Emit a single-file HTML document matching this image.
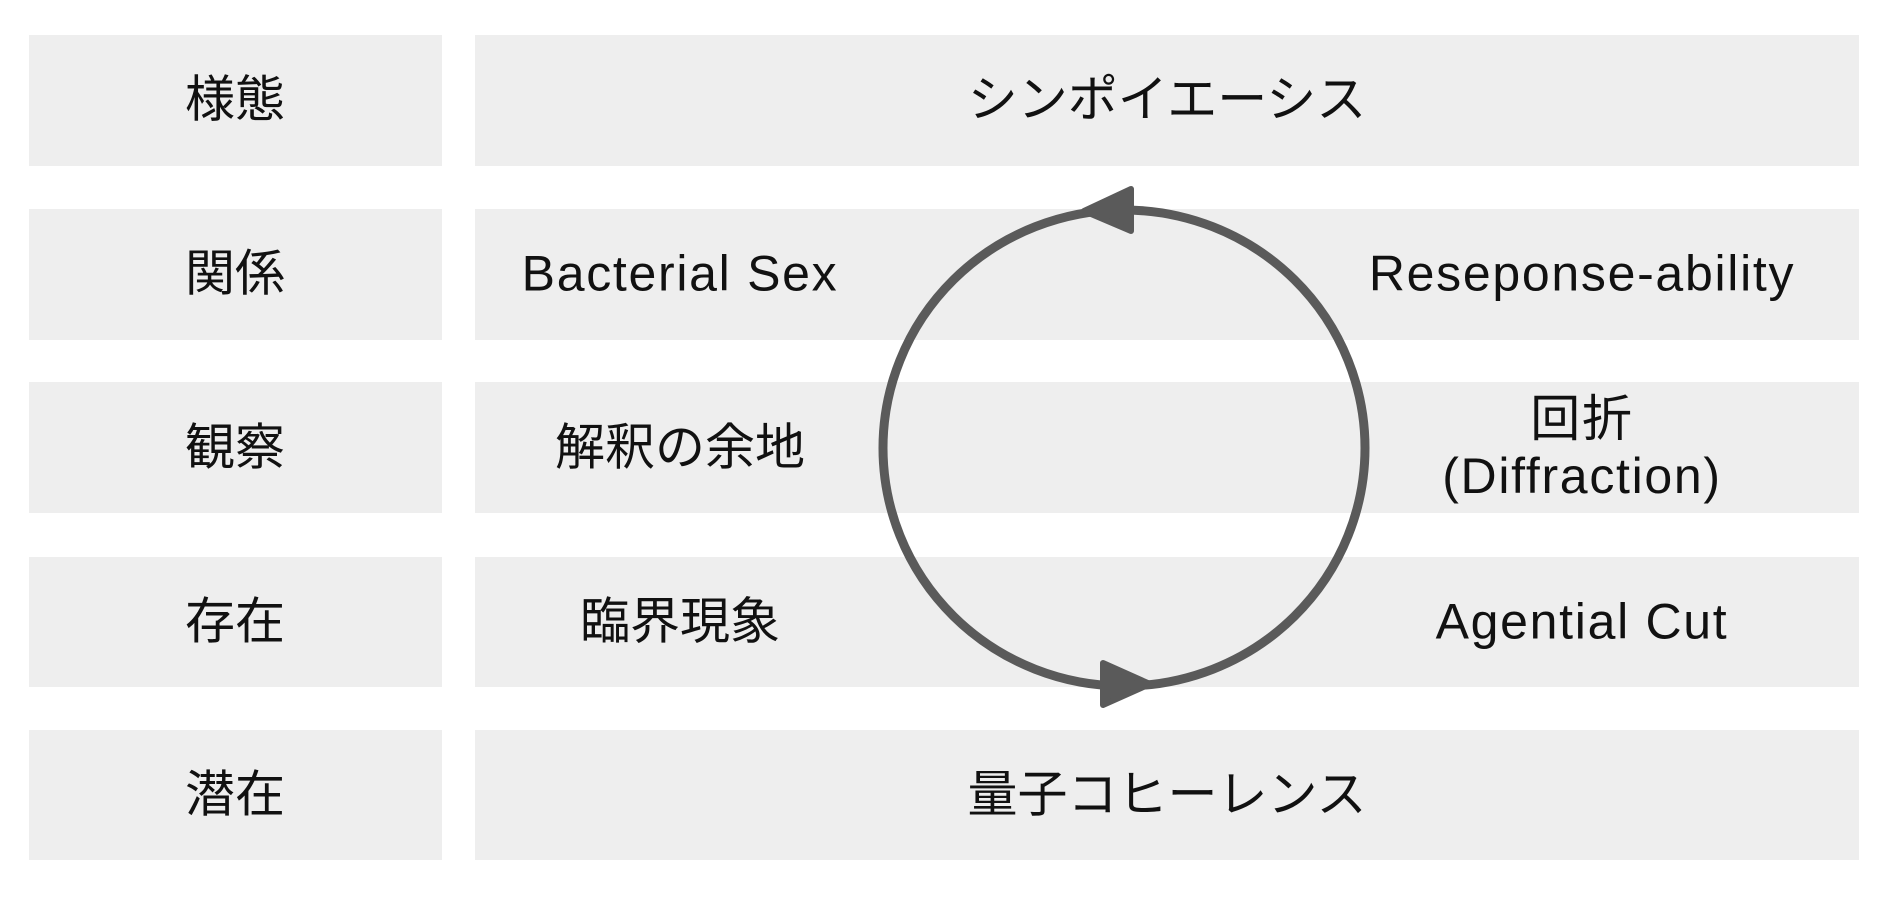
<!DOCTYPE html>
<html><head><meta charset="utf-8"><style>
body{margin:0;width:1898px;height:910px;background:#fff;position:relative;overflow:hidden;font-family:"Liberation Sans","Noto Sans CJK JP",sans-serif;color:#111}
.b{position:absolute;background:#eeeeee}
.t{position:absolute;font-size:50px;line-height:57px;text-align:center;transform:translate(-50%,-50%);white-space:nowrap}
.l{letter-spacing:1.7px}
</style></head><body>
<div class="b" style="left:29px;top:35px;width:413px;height:131px"></div>
<div class="b" style="left:29px;top:209px;width:413px;height:131px"></div>
<div class="b" style="left:29px;top:382px;width:413px;height:131px"></div>
<div class="b" style="left:29px;top:557px;width:413px;height:130px"></div>
<div class="b" style="left:29px;top:730px;width:413px;height:130px"></div>
<div class="b" style="left:475px;top:35px;width:1384px;height:131px"></div>
<div class="b" style="left:475px;top:209px;width:1384px;height:131px"></div>
<div class="b" style="left:475px;top:382px;width:1384px;height:131px"></div>
<div class="b" style="left:475px;top:557px;width:1384px;height:130px"></div>
<div class="b" style="left:475px;top:730px;width:1384px;height:130px"></div>
<div class="t" style="left:235px;top:100px">様態</div>
<div class="t" style="left:235px;top:274px">関係</div>
<div class="t" style="left:235px;top:448px">観察</div>
<div class="t" style="left:235px;top:622px">存在</div>
<div class="t" style="left:235px;top:795px">潜在</div>
<div class="t" style="left:1167px;top:100px">シンポイエーシス</div>
<div class="t" style="left:1167px;top:795px">量子コヒーレンス</div>
<div class="t l" style="left:680px;top:274px">Bacterial Sex</div>
<div class="t" style="left:680px;top:448px">解釈の余地</div>
<div class="t" style="left:680px;top:622px">臨界現象</div>
<div class="t l" style="left:1582px;top:274px">Reseponse-ability</div>
<div class="t l" style="left:1582px;top:448px">回折<br>(Diffraction)</div>
<div class="t l" style="left:1582px;top:622px">Agential Cut</div>
<svg width="1898" height="910" style="position:absolute;left:0;top:0">
<ellipse cx="1124" cy="448" rx="241" ry="238" fill="none" stroke="#5a5a5a" stroke-width="9"/>
<polygon points="1084,211 1131,189 1131,231" fill="#5a5a5a" stroke="#5a5a5a" stroke-width="6" stroke-linejoin="round"/>
<polygon points="1150,684 1103,663 1103,705" fill="#5a5a5a" stroke="#5a5a5a" stroke-width="6" stroke-linejoin="round"/>
</svg>
</body></html>
